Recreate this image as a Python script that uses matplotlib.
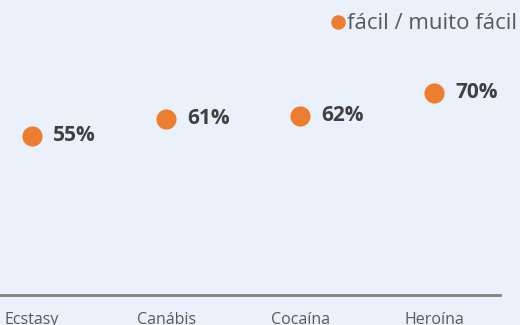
import matplotlib
matplotlib.use('Agg')
from matplotlib import pyplot as plt
from matplotlib.lines import Line2D

#%% Data
categories = ['Ecstasy', 'Canábis', 'Cocaína', 'Heroína']
values = [55, 61, 62, 70]
series_name = 'fácil / muito fácil'

bg = '#EAF1FA'
orange = '#ED7D31'

plt.rcParams['font.family'] = ['Open Sans', 'DejaVu Sans']

fig = plt.figure(figsize=(5.2, 3.25), dpi=100, facecolor=bg)
ax = fig.add_axes([0, 30/325, 500/520, 295/325])
ax.set_facecolor(bg)

x = list(range(len(categories)))
ax.scatter(x, values, s=210, c=orange, zorder=3, linewidths=0)
for i, v in zip(x, values):
	ax.annotate('{}%'.format(v), (i, v), xytext=(15, 0), textcoords='offset points',
		va='center', ha='left', fontsize=15, fontweight='bold', color='#404040')

ax.set_xlim(-0.24, 3.49)
ax.set_ylim(0, 102)
ax.set_yticks([])
ax.set_xticks(x)
ax.set_xticklabels(categories, fontsize=11.5, color='#595959')
ax.tick_params(axis='x', length=0, pad=12)
for s in ['top', 'right', 'left']:
	ax.spines[s].set_visible(False)
ax.spines['bottom'].set_color('#808080')
ax.spines['bottom'].set_linewidth(2)

handle = Line2D([], [], marker='o', ls='', color=orange, markersize=10.5, markeredgewidth=0)
fig.legend([handle], [series_name], loc='upper right', bbox_to_anchor=(1.024, 1.007),
	frameon=False, fontsize=16, labelcolor='#595959', handletextpad=-0.1,
	handlelength=1.0, borderaxespad=0.3)

fig.savefig('out.png', dpi=100, facecolor=bg)
